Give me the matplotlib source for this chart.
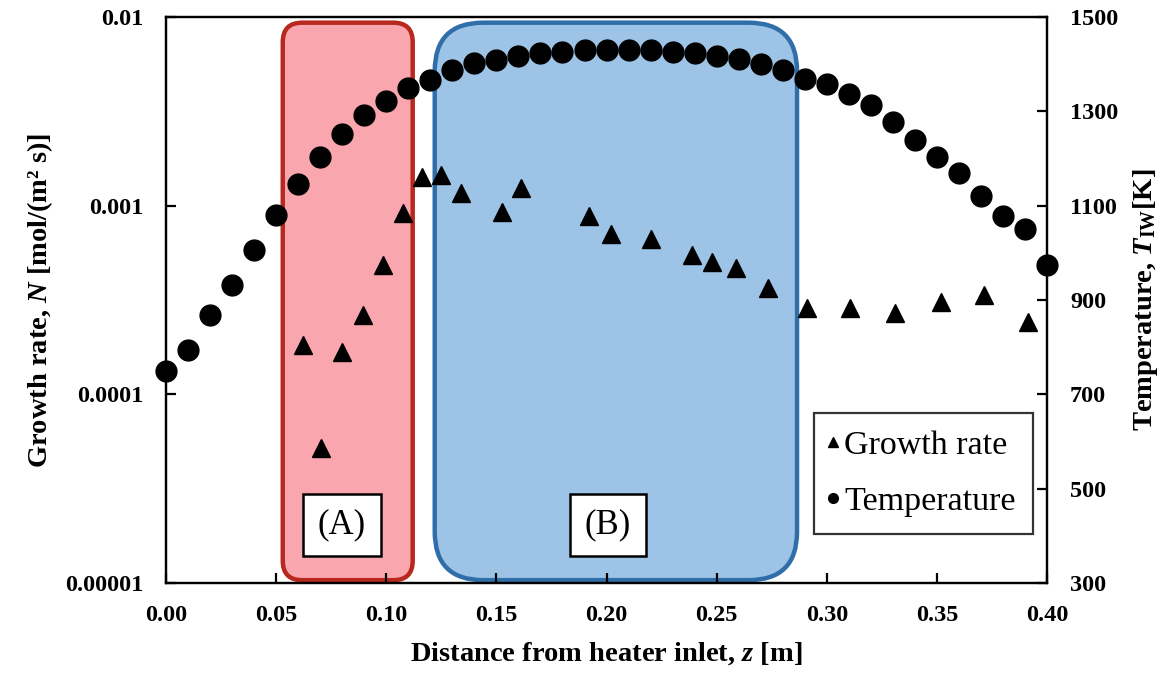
"""
Growth rate and wall temperature along the heater.
Triangles = growth rate (log scale, left axis).
Circles = wall temperature (right axis).
Shaded rounded boxes mark regions (A) and (B).
"""

import matplotlib
matplotlib.use("Agg")
import matplotlib.pyplot as plt
import matplotlib.ticker as mticker
from matplotlib.patches import FancyBboxPatch
from matplotlib.lines import Line2D

plt.rcParams["font.family"] = ["Liberation Serif", "DejaVu Serif"]
plt.rcParams["mathtext.fontset"] = "custom"
plt.rcParams["mathtext.rm"] = "Liberation Serif:bold"
plt.rcParams["mathtext.it"] = "Liberation Serif:italic:bold"
plt.rcParams["mathtext.bf"] = "Liberation Serif:bold"

# ─── Datos ───────────────────────────────────────────────────────────────────
z_temp = [0.00, 0.01, 0.02, 0.03, 0.04, 0.05, 0.06, 0.07, 0.08, 0.09,
          0.10, 0.11, 0.12, 0.13, 0.14, 0.15, 0.16, 0.17, 0.18, 0.19,
          0.20, 0.21, 0.22, 0.23, 0.24, 0.25, 0.26, 0.27, 0.28, 0.29,
          0.30, 0.31, 0.32, 0.33, 0.34, 0.35, 0.36, 0.37, 0.38, 0.39, 0.40]
temp_K = [750, 794, 868, 932, 1006, 1080, 1146, 1203, 1252, 1292,
          1322, 1350, 1366, 1388, 1403, 1409, 1417, 1423, 1426, 1429,
          1429, 1429, 1429, 1426, 1423, 1417, 1410, 1400, 1388, 1368,
          1359, 1337, 1313, 1278, 1239, 1204, 1169, 1120, 1078, 1050, 974]

z_growth = [0.0623, 0.0704, 0.0798, 0.0896, 0.0987, 0.1077, 0.1161, 0.1247,
            0.1339, 0.1527, 0.1610, 0.1922, 0.2020, 0.2200, 0.2390, 0.2480,
            0.2587, 0.2735, 0.2912, 0.3106, 0.3310, 0.3517, 0.3714, 0.3915]
growth_N = [1.83e-4, 5.18e-5, 1.68e-4, 2.63e-4, 4.85e-4, 9.11e-4, 1.42e-3, 1.45e-3,
            1.17e-3, 9.29e-4, 1.24e-3, 8.81e-4, 7.08e-4, 6.63e-4, 5.48e-4, 5.05e-4,
            4.66e-4, 3.65e-4, 2.86e-4, 2.86e-4, 2.69e-4, 3.10e-4, 3.36e-4, 2.43e-4]

# Regiones (z inicio, z fin) y posicion z de su etiqueta
region_labels = ["(A)", "(B)"]
region_z = [(0.053, 0.112), (0.122, 0.2865)]
region_label_z = [0.0799, 0.2007]
region_face = ["#F9A6AE", "#9DC3E6"]
region_edge = ["#B8281F", "#2F6EA8"]
region_radius = [0.022, 0.055]

left_ticks = [1e-5, 1e-4, 1e-3, 1e-2]
left_tick_labels = ["0.00001", "0.0001", "0.001", "0.01"]
right_ticks = [300, 500, 700, 900, 1100, 1300, 1500]
x_ticks = [0.00, 0.05, 0.10, 0.15, 0.20, 0.25, 0.30, 0.35, 0.40]

XMIN, XMAX = 0.0, 0.40

# ─── Figura ──────────────────────────────────────────────────────────────────
fig = plt.figure(figsize=(11.7, 6.75), dpi=100)
ax = fig.add_axes([0.1419, 0.1363, 0.7530, 0.8385])
ax2 = ax.twinx()

ax.set_xlim(XMIN, XMAX)
ax.set_yscale("log")
ax.set_ylim(1e-5, 1e-2)
ax2.set_ylim(300, 1500)

# Cajas redondeadas de las regiones (en fraccion de ejes)
pos = ax.get_position()
w_px = pos.width * fig.get_figwidth()
h_px = pos.height * fig.get_figheight()
aspect = w_px / h_px
for lbl, (z0, z1), zl, fc, ec, r in zip(region_labels, region_z, region_label_z,
                                        region_face, region_edge, region_radius):
    x0 = (z0 - XMIN) / (XMAX - XMIN)
    x1 = (z1 - XMIN) / (XMAX - XMIN)
    box = FancyBboxPatch(
        (x0, 0.005), x1 - x0, 0.985,
        boxstyle=f"round,pad=0,rounding_size={r}",
        mutation_aspect=aspect,
        transform=ax.transAxes, facecolor=fc, edgecolor=ec,
        linewidth=3.2, zorder=1, clip_on=False,
    )
    ax.add_patch(box)
    ax.text((zl - XMIN) / (XMAX - XMIN), 0.1025, lbl, transform=ax.transAxes,
            ha="center", va="center", fontsize=25, zorder=3,
            bbox=dict(boxstyle="square,pad=0.42", facecolor="white",
                      edgecolor="black", linewidth=1.8))

ax.plot(z_growth, growth_N, linestyle="none", marker="^", markersize=13,
        color="black", zorder=4)
ax2.plot(z_temp, temp_K, linestyle="none", marker="o", markersize=15,
         color="black", zorder=4, clip_on=False)

# Ejes y ticks
ax.yaxis.set_major_locator(mticker.FixedLocator(left_ticks))
ax.yaxis.set_major_formatter(mticker.FixedFormatter(left_tick_labels))
ax.yaxis.set_minor_locator(mticker.NullLocator())
ax.set_xticks(x_ticks)
ax.xaxis.set_major_formatter(mticker.FuncFormatter(lambda v, _: f"{v:.2f}"))
ax2.set_yticks(right_ticks)

for a in (ax, ax2):
    for s in a.spines.values():
        s.set_linewidth(1.6)
ax.tick_params(axis="y", which="major", direction="in", length=7, width=1.6,
               labelsize=17.5, pad=16.5, right=False)
ax.tick_params(axis="x", which="major", direction="in", length=7, width=1.6,
               labelsize=17.5, pad=16, top=False)
ax2.tick_params(axis="y", direction="in", length=7, width=1.6, labelsize=17.5,
                pad=16.5)
for lab in ax.get_xticklabels() + ax.get_yticklabels() + ax2.get_yticklabels():
    lab.set_fontweight("bold")

ax.set_xlabel(r"Distance from heater inlet, $z$ [m]", fontsize=20.5,
              fontweight="bold", labelpad=10)
ax.set_ylabel(r"Growth rate, $N$ [mol/(m² s)]", fontsize=20.5,
              fontweight="bold", labelpad=7)
ax2.set_ylabel(r"Temperature, $T_{\mathrm{IW}}$[K]", fontsize=20.5,
               fontweight="bold", labelpad=9)

handles = [
    Line2D([], [], linestyle="none", marker="^", markersize=7, color="black"),
    Line2D([], [], linestyle="none", marker="o", markersize=7, color="black"),
]
leg = ax2.legend(handles, ["Growth rate", "Temperature"], loc="lower right",
                 bbox_to_anchor=(0.984, 0.0866), fontsize=24.5, frameon=True,
                 fancybox=False, handlelength=0.1, handletextpad=0.3,
                 borderpad=0.5, labelspacing=0.75, borderaxespad=0)
leg.get_frame().set_edgecolor("black")
leg.get_frame().set_linewidth(1.6)

fig.savefig("out.png", dpi=100)
